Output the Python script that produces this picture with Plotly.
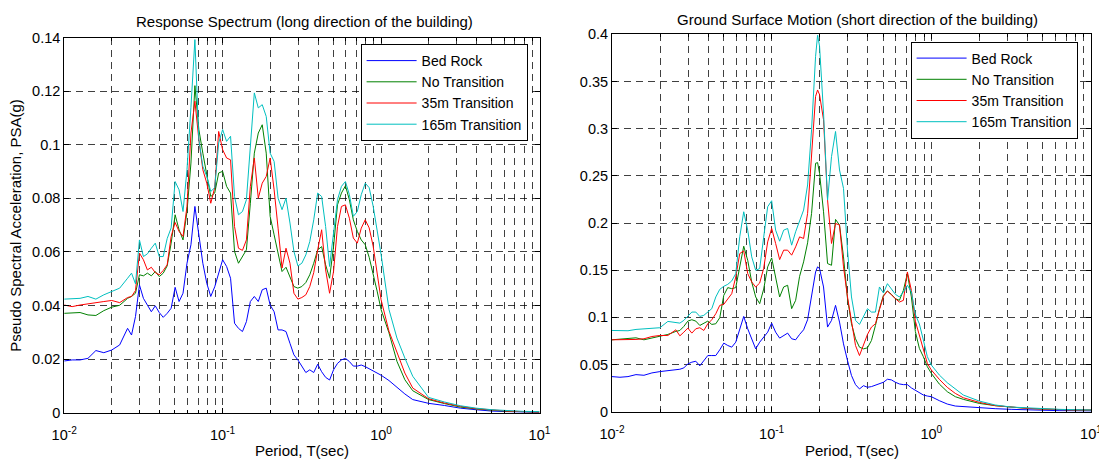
import plotly.graph_objects as go

FONT = "Liberation Sans, Arial, Helvetica, sans-serif"

# ---------------- data: long direction (left panel) ----------------
long_period = [0.0100, 0.01122, 0.01259, 0.01413, 0.01585, 0.01778, 0.01995, 0.02239, 0.02512,
               0.02661, 0.02818, 0.02985, 0.03162, 0.03350, 0.03548, 0.03758, 0.03981, 0.04217,
               0.04467, 0.04732, 0.05012, 0.05309, 0.05623, 0.05957, 0.06310, 0.06683, 0.07079,
               0.07499, 0.07943, 0.08414, 0.08913, 0.09441, 0.1000, 0.1059, 0.1122, 0.1189,
               0.1259, 0.1334, 0.1413, 0.1496, 0.1585, 0.1679, 0.1778, 0.1884, 0.1995, 0.2113,
               0.2239, 0.2371, 0.2512, 0.2661, 0.2818, 0.2985, 0.3162, 0.3350, 0.3548, 0.3758,
               0.3981, 0.4217, 0.4467, 0.4732, 0.5012, 0.5309, 0.5623, 0.5957, 0.6310, 0.6683,
               0.7079, 0.7499, 0.7943, 0.8414, 0.8913, 0.9441, 1.000, 1.122, 1.259, 1.413,
               1.585, 1.995, 2.512, 3.162, 3.981, 5.012, 6.310, 7.943, 10.0]

long_bed_rock = [.0193, .0197, .0197, .0203, .0232, .0224, .0234, .0253, .0315,
                 .0290, .0359, .0477, .0427, .0399, .0377, .0399, .0374, .0356,
                 .0371, .0390, .0468, .0415, .0446, .0558, .0627, .0770, .0670,
                 .0558, .0483, .0434, .0470, .0520, .0571, .0546, .0502, .0334,
                 .0315, .0303, .0340, .0415, .0434, .0415, .0459, .0465, .0402, .0377,
                 .0309, .0309, .0303, .0259, .0216, .0197, .0172, .0150, .0160, .0150,
                 .0181, .0153, .0132, .0122, .0160, .0184, .0197, .0203, .0191, .0174,
                 .0174, .0178, .0172, .0164, .0155, .0147, .0140, .0120, .0095, .0070,
                 .0049, .0035, .0027, .0017, .0011, .0006, .0004, .0002, .0001]

long_no_transition = [.0371, .0372, .0374, .0365, .0363, .0381, .0394, .0401, .0427,
                      .0434, .0446, .0515, .0511, .0521, .0511, .0527, .0508, .0521,
                      .0548, .0633, .0739, .0683, .0645, .0751, .0932, .1221, .1057,
                      .0969, .0882, .0807, .0820, .0895, .0901, .0845, .0820, .0602,
                      .0558, .0583, .0608, .0782, .0969, .1044, .1075, .0969, .0733, .0664,
                      .0589, .0527, .0543, .0508, .0471, .0465, .0471, .0486, .0515, .0558,
                      .0608, .0620, .0552, .0502, .0620, .0776, .0820, .0847, .0795, .0720,
                      .0677, .0645, .0627, .0580, .0522, .0454, .0385, .0298, .0192, .0123,
                      .0082, .0049, .0034, .0021, .0014, .0009, .0005, .0004, .0002]

long_35m = [.0402, .0396, .0402, .0407, .0411, .0415, .0419, .0411, .0430,
            .0434, .0456, .0596, .0571, .0533, .0543, .0523, .0515, .0531,
            .0552, .0658, .0710, .0677, .0658, .0770, .1044, .1163, .1019,
            .0907, .0857, .0782, .0840, .1050, .0982, .0951, .0944, .0695,
            .0614, .0606, .0645, .0845, .0951, .0801, .0857, .0882, .0951, .0832,
            .0689, .0540, .0614, .0558, .0446, .0424, .0430, .0440, .0471, .0523,
            .0608, .0683, .0533, .0446, .0527, .0695, .0770, .0776, .0726, .0652,
            .0633, .0689, .0720, .0690, .0622, .0522, .0422, .0304, .0223, .0148,
            .0092, .0052, .0036, .0024, .0015, .0010, .0006, .0004, .0002]

long_165m = [.0424, .0426, .0427, .0434, .0424, .0440, .0452, .0465, .0502,
             .0521, .0481, .0645, .0583, .0593, .0614, .0633, .0583, .0583,
             .0650, .0690, .0863, .0832, .0751, .0907, .1140, .1393, .1019,
             .0920, .0882, .0826, .0840, .1007, .1057, .1013, .1032, .0807,
             .0739, .0751, .0795, .1007, .1194, .1138, .1150, .1106, .0969, .0938,
             .0801, .0758, .0801, .0708, .0602, .0548, .0558, .0589, .0639, .0720,
             .0820, .0807, .0695, .0546, .0683, .0795, .0845, .0863, .0814, .0733,
             .0751, .0814, .0857, .0840, .0771, .0684, .0591, .0385, .0279, .0204,
             .0136, .0057, .0040, .0026, .0017, .0011, .0007, .0005, .0004]

# ---------------- data: short direction (right panel) ----------------
short_period = [0.0100, 0.01122, 0.01259, 0.01413, 0.01585, 0.01778, 0.01995, 0.02239, 0.02512,
                0.02661, 0.02818, 0.02985, 0.03162, 0.03350, 0.03548, 0.03758, 0.03981, 0.04217,
                0.04467, 0.04732, 0.05012, 0.05309, 0.05623, 0.05957, 0.06310, 0.06683, 0.07079,
                0.07499, 0.07943, 0.08414, 0.08913, 0.09441, 0.1000, 0.1059, 0.1122, 0.1189,
                0.1259, 0.1334, 0.1413, 0.1496, 0.1585, 0.1679, 0.1778, 0.1884, 0.1939, 0.1995,
                0.2113, 0.2239, 0.2371, 0.2512, 0.2661, 0.2818, 0.2985, 0.3162, 0.3350, 0.3548,
                0.3758, 0.3981, 0.4217, 0.4467, 0.4732, 0.5012, 0.5309, 0.5623, 0.5957, 0.6310,
                0.6683, 0.7079, 0.7499, 0.7943, 0.8414, 0.8913, 0.9441, 1.000, 1.122, 1.259,
                1.413, 1.585, 1.995, 2.512, 3.162, 3.981, 5.012, 6.310, 7.943, 10.0]

short_bed_rock = [.0372, .0365, .0372, .0393, .0386, .0411, .0425, .0436, .0443,
                  .0450, .0464, .0507, .0525, .0535, .0486, .0542, .0595, .0595,
                  .0595, .0656, .0727, .0702, .0684, .0737, .0879, .1010, .0879,
                  .0773, .0666, .0737, .0790, .0843, .0939, .0843, .0780, .0808,
                  .0833, .0773, .0762, .0819, .0868, .0975, .1216, .1481, .1535, .1517,
                  .1322, .0897, .0968, .1127, .0950, .0719, .0542, .0383, .0287, .0241,
                  .0276, .0259, .0266, .0284, .0294, .0312, .0344, .0337, .0312, .0294,
                  .0287, .0287, .0252, .0225, .0205, .0177, .0166, .0159, .0117, .0081,
                  .0060, .0053, .0042, .0032, .0025, .0018, .0014, .0011, .0010, .0008]

short_no_transition = [.0762, .0769, .0773, .0783, .0762, .0783, .0797, .0819, .0851,
                       .0861, .0904, .0960, .0975, .0960, .0914, .0939, .0960, .0925,
                       .0932, .0996, .1233, .1315, .1304, .1315, .1535, .1754, .1605,
                       .1375, .1216, .1145, .1300, .1535, .1630, .1428, .1216, .1322,
                       .1340, .1092, .1180, .1435, .1588, .1790, .2102, .2633, .2640, .2527,
                       .2119, .1570, .1552, .2038, .1978, .1641, .1198, .0932, .0773, .0684,
                       .0666, .0677, .0755, .0914, .1092, .1233, .1279, .1244, .1198, .1180,
                       .1286, .1464, .1216, .0850, .0671, .0583, .0477, .0406, .0293, .0212,
                       .0159, .0131, .0088, .0064, .0046, .0035, .0028, .0021, .0018, .0018]

short_35m = [.0762, .0762, .0762, .0766, .0773, .0797, .0808, .0808, .0868,
             .0804, .0843, .0886, .0833, .0879, .0890, .0861, .0932, .0975,
             .1038, .1127, .1138, .1198, .1251, .1428, .1676, .1705, .1464,
             .1375, .1322, .1364, .1520, .1800, .1942, .1783, .1612, .1712,
             .1712, .1659, .1747, .1853, .1836, .2102, .2775, .3342, .3410, .3360,
             .3094, .2243, .1783, .1995, .1978, .1535, .1216, .0939, .0702, .0595,
             .0719, .0819, .0897, .0932, .1081, .1223, .1279, .1233, .1198, .1162,
             .1180, .1481, .1286, .0960, .0813, .0654, .0512, .0442, .0343, .0258,
             .0194, .0148, .0099, .0064, .0046, .0035, .0028, .0021, .0018, .0018]

short_165m = [.0861, .0858, .0858, .0872, .0879, .0886, .0890, .0957, .0946,
              .0939, .0968, .1017, .1056, .1056, .1010, .1021, .1056, .1092,
              .1216, .1297, .1329, .1350, .1386, .1464, .1854, .2119, .1924,
              .1641, .1499, .1517, .1850, .2172, .2236, .1924, .1807, .1924,
              .1942, .1765, .1907, .2024, .2137, .2403, .2988, .3767, .3990, .3874,
              .3165, .2243, .2704, .2970, .2562, .2367, .1712, .1216, .0968, .0925,
              .1003, .1092, .1056, .1056, .1322, .1258, .1357, .1304, .1244, .1216,
              .1269, .1340, .1269, .1030, .0930, .0760, .0583, .0495, .0389, .0307,
              .0237, .0177, .0113, .0071, .0049, .0039, .0028, .0025, .0021, .0018]

series_names = ["Bed Rock", "No Transition", "35m Transition", "165m Transition"]
series_colors = ["#0000FF", "#008000", "#FF0000", "#00BFBF"]

x_major_vals = [0.01, 0.1, 1, 10]
x_major_text = ["10<sup>-2</sup>", "10<sup>-1</sup>", "10<sup>0</sup>", "10<sup>1</sup>"]
x_minor_vals = [0.02, 0.03, 0.04, 0.05, 0.06, 0.07, 0.08, 0.09,
                0.2, 0.3, 0.4, 0.5, 0.6, 0.7, 0.8, 0.9,
                2, 3, 4, 5, 6, 7, 8, 9]
long_y_vals = [0, 0.02, 0.04, 0.06, 0.08, 0.10, 0.12, 0.14]
long_y_text = ["0", "0.02", "0.04", "0.06", "0.08", "0.1", "0.12", "0.14"]
short_y_vals = [0, 0.05, 0.10, 0.15, 0.20, 0.25, 0.30, 0.35, 0.40]
short_y_text = ["0", "0.05", "0.1", "0.15", "0.2", "0.25", "0.3", "0.35", "0.4"]

for arr in (long_bed_rock, long_no_transition, long_35m, long_165m):
    assert len(arr) == len(long_period)
for arr in (short_bed_rock, short_no_transition, short_35m, short_165m):
    assert len(arr) == len(short_period)

fig = go.Figure()
for name, col, ys in zip(series_names, series_colors,
                         [long_bed_rock, long_no_transition, long_35m, long_165m]):
    fig.add_trace(go.Scatter(x=long_period, y=ys, mode="lines", name=name,
                             line=dict(color=col, width=1), xaxis="x", yaxis="y",
                             legend="legend"))
for name, col, ys in zip(series_names, series_colors,
                         [short_bed_rock, short_no_transition, short_35m, short_165m]):
    fig.add_trace(go.Scatter(x=short_period, y=ys, mode="lines", name=name,
                             line=dict(color=col, width=1), xaxis="x2", yaxis="y2",
                             legend="legend2"))

W, H = 1099, 460
GRIDCOL = "rgba(0,0,0,0.75)"
DASH = "7px,5px"
grid = dict(showgrid=True, gridcolor=GRIDCOL, gridwidth=1, griddash=DASH,
            showline=True, linecolor="black", linewidth=1, mirror="ticks",
            ticks="inside", ticklen=5, tickcolor="black", zeroline=False,
            automargin=False,
            tickfont=dict(family=FONT, size=14.5, color="black"))

xcommon = dict(type="log", range=[-2, 1], tickmode="array",
               tickvals=x_major_vals, ticktext=x_major_text, ticklabelstandoff=9,
               ticklabeloverflow="allow",
               minor=dict(tickmode="array", tickvals=x_minor_vals, ticks="inside", ticklen=3,
                          tickcolor="black", showgrid=True, gridcolor=GRIDCOL,
                          gridwidth=1, griddash=DASH),
               **grid)

legend_common = dict(xanchor="left", yanchor="top", bgcolor="white", bordercolor="black",
                     borderwidth=1, font=dict(family=FONT, size=14, color="black"),
                     itemwidth=50)

fig.update_layout(
    width=W, height=H,
    margin=dict(l=0, r=0, t=0, b=0, autoexpand=False),
    paper_bgcolor="white", plot_bgcolor="white",
    font=dict(family=FONT, size=14.5, color="black"),
    xaxis=dict(domain=[64.2 / W, 539.5 / W], anchor="y", **xcommon),
    yaxis=dict(domain=[1 - 412.7 / H, 1 - 37.7 / H], anchor="x", range=[0, 0.14],
               tickmode="array", tickvals=long_y_vals, ticktext=long_y_text, **grid),
    xaxis2=dict(domain=[612 / W, 1091 / W], anchor="y2", **xcommon),
    yaxis2=dict(domain=[1 - 411.7 / H, 1 - 34.3 / H], anchor="x2", range=[0, 0.4],
                tickmode="array", tickvals=short_y_vals, ticktext=short_y_text, **grid),
    legend=dict(x=360.6 / W, y=1 - 44 / H, **legend_common),
    legend2=dict(x=910.6 / W, y=1 - 41.5 / H, **legend_common),
    showlegend=True,
    annotations=[
        dict(text="Response Spectrum (long direction of the building)", x=304.5 / W, y=1 - 21.7 / H,
             xref="paper", yref="paper", xanchor="center", yanchor="middle", showarrow=False,
             font=dict(family=FONT, size=15, color="black")),
        dict(text="Ground Surface Motion (short direction of the building)", x=857 / W, y=1 - 20 / H,
             xref="paper", yref="paper", xanchor="center", yanchor="middle", showarrow=False,
             font=dict(family=FONT, size=15, color="black")),
        dict(text="Period, T(sec)", x=302 / W, y=1 - 450.5 / H,
             xref="paper", yref="paper", xanchor="center", yanchor="middle", showarrow=False,
             font=dict(family=FONT, size=15, color="black")),
        dict(text="Period, T(sec)", x=851.5 / W, y=1 - 450.5 / H,
             xref="paper", yref="paper", xanchor="center", yanchor="middle", showarrow=False,
             font=dict(family=FONT, size=15, color="black")),
        dict(text="Pseudo Spectral Acceleration, PSA(g)", x=15.8 / W, y=1 - 225 / H,
             xref="paper", yref="paper", xanchor="center", yanchor="middle", showarrow=False,
             textangle=-90, font=dict(family=FONT, size=15, color="black")),
    ],
)

fig.write_html("out.html")
